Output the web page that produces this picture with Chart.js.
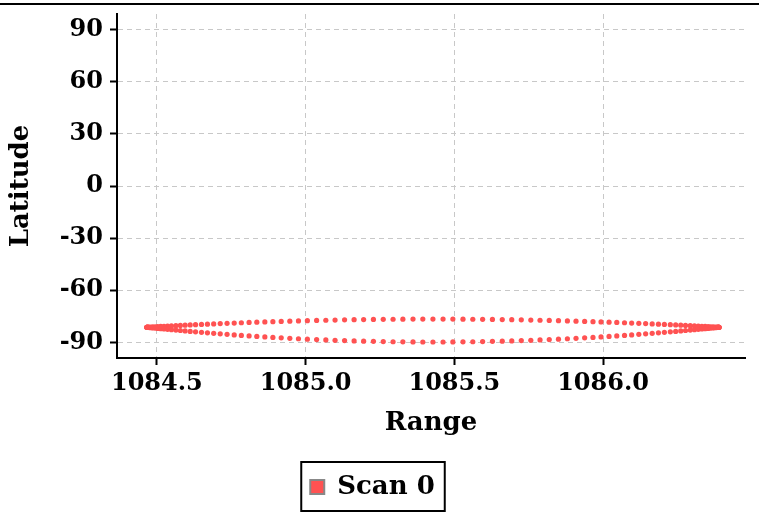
<!DOCTYPE html>
<html>
<head>
<meta charset="utf-8">
<script src="https://cdn.jsdelivr.net/npm/chart.js@4"></script>
<style>
  html, body { margin: 0; padding: 0; background: #fff; }
  #wrap { width: 759px; height: 512px; position: relative; }
</style>
</head>
<body>
<div id="wrap"><canvas id="myChart" width="759" height="512"></canvas></div>
<script>
// range values along the scan (shared by the upper and lower edge)
var ranges = [
  1086.390, 1086.389, 1086.388, 1086.385, 1086.381, 1086.375, 1086.369, 1086.361, 1086.353, 1086.343,
  1086.332, 1086.320, 1086.307, 1086.293, 1086.277, 1086.261, 1086.244, 1086.226, 1086.206, 1086.186,
  1086.165, 1086.143, 1086.120, 1086.096, 1086.072, 1086.046, 1086.020, 1085.993, 1085.966, 1085.938,
  1085.909, 1085.880, 1085.850, 1085.819, 1085.788, 1085.757, 1085.725, 1085.693, 1085.661, 1085.628,
  1085.595, 1085.562, 1085.529, 1085.495, 1085.462, 1085.428, 1085.394, 1085.361, 1085.327, 1085.294,
  1085.261, 1085.228, 1085.195, 1085.163, 1085.131, 1085.099, 1085.068, 1085.037, 1085.006, 1084.976,
  1084.947, 1084.918, 1084.890, 1084.863, 1084.836, 1084.810, 1084.784, 1084.760, 1084.736, 1084.713,
  1084.691, 1084.670, 1084.650, 1084.630, 1084.612, 1084.595, 1084.579, 1084.564, 1084.549, 1084.536,
  1084.524, 1084.513, 1084.503, 1084.495, 1084.487, 1084.481, 1084.475, 1084.471, 1084.468, 1084.467,
  1084.466
];
var latUpper = [
  -81.30, -81.29, -81.28, -81.25, -81.21, -81.16, -81.10, -81.02, -80.94, -80.85,
  -80.75, -80.64, -80.52, -80.40, -80.26, -80.13, -79.98, -79.83, -79.68, -79.52,
  -79.36, -79.20, -79.03, -78.87, -78.70, -78.54, -78.38, -78.22, -78.07, -77.92,
  -77.78, -77.64, -77.50, -77.38, -77.26, -77.15, -77.05, -76.96, -76.88, -76.80,
  -76.74, -76.69, -76.65, -76.62, -76.61, -76.60, -76.61, -76.62, -76.65, -76.69,
  -76.74, -76.80, -76.88, -76.96, -77.05, -77.15, -77.26, -77.38, -77.50, -77.64,
  -77.78, -77.92, -78.07, -78.22, -78.38, -78.54, -78.70, -78.87, -79.03, -79.20,
  -79.36, -79.52, -79.68, -79.83, -79.98, -80.13, -80.26, -80.40, -80.52, -80.64,
  -80.75, -80.85, -80.94, -81.02, -81.10, -81.16, -81.21, -81.25, -81.28, -81.29,
  -81.30
];
var latLower = [
  -81.30, -81.31, -81.34, -81.39, -81.46, -81.56, -81.67, -81.80, -81.95, -82.11,
  -82.29, -82.49, -82.71, -82.93, -83.17, -83.43, -83.69, -83.96, -84.24, -84.52,
  -84.81, -85.11, -85.40, -85.70, -85.99, -86.29, -86.58, -86.86, -87.14, -87.41,
  -87.68, -87.93, -88.17, -88.39, -88.61, -88.81, -88.99, -89.15, -89.30, -89.43,
  -89.54, -89.64, -89.71, -89.76, -89.79, -89.80, -89.79, -89.76, -89.71, -89.64,
  -89.54, -89.43, -89.30, -89.15, -88.99, -88.81, -88.61, -88.39, -88.17, -87.93,
  -87.68, -87.41, -87.14, -86.86, -86.58, -86.29, -85.99, -85.70, -85.40, -85.11,
  -84.81, -84.52, -84.24, -83.96, -83.69, -83.43, -83.17, -82.93, -82.71, -82.49,
  -82.29, -82.11, -81.95, -81.80, -81.67, -81.56, -81.46, -81.39, -81.34, -81.31,
  -81.30
];

var points = [];
for (var i = 0; i < ranges.length; i++) points.push({x: ranges[i], y: latUpper[i]});
for (var j = ranges.length - 1; j >= 0; j--) points.push({x: ranges[j], y: latLower[j]});

var serif = "'DejaVu Serif', serif";

var frame = {
  id: 'frame',
  beforeDraw: function(chart) {
    var c = chart.ctx;
    c.save();
    c.fillStyle = '#fff';
    c.fillRect(0, 0, chart.width, chart.height);
    c.fillStyle = '#000';
    c.fillRect(0, 3, chart.width, 2);
    c.restore();
  },
  afterDraw: function(chart) {
    var box = chart.legend.legendHitBoxes[0];
    if (!box) return;
    var c = chart.ctx;
    c.save();
    c.strokeStyle = '#000';
    c.lineWidth = 2;
    c.strokeRect(box.left - 9, box.top - 12, box.width + 19, box.height + 23);
    c.restore();
  }
};

var ctx = document.getElementById('myChart').getContext('2d');
var myChart = new Chart(ctx, {
  type: 'scatter',
  data: {
    datasets: [{
      label: 'Scan 0',
      data: points,
      backgroundColor: 'rgb(255, 82, 82)',
      borderColor: 'rgb(255, 82, 82)',
      pointRadius: 2.6,
      pointBorderWidth: 0
    }]
  },
  options: {
    responsive: false,
    animation: false,
    layout: { padding: { left: 0, right: 14, top: 14, bottom: 2 } },
    scales: {
      x: {
        type: 'linear',
        min: 1084.366,
        max: 1086.477,
        ticks: {
          stepSize: 0.5,
          includeBounds: false,
          color: '#000',
          padding: 4,
          maxRotation: 0,
          font: { family: serif, weight: 'bold', size: 24 },
          callback: function(v) { return v.toFixed(1); }
        },
        grid: { color: '#c8c8c8', lineWidth: 1, tickColor: '#000', tickWidth: 2, tickLength: 7 },
        border: { display: true, color: '#000', width: 2, dash: [5, 4] },
        title: { display: true, text: 'Range', color: '#000', padding: { top: 0, bottom: 21 },
                 font: { family: serif, weight: 'bold', size: 26 } },
        afterFit: function(scale) {
          scale.height = 102;
          scale.paddingLeft = 0;
          scale.paddingRight = 0;
        }
      },
      y: {
        min: -99,
        max: 99,
        ticks: {
          stepSize: 30,
          includeBounds: false,
          color: '#000',
          padding: 7,
          font: { family: serif, weight: 'bold', size: 24 }
        },
        grid: { color: '#c8c8c8', lineWidth: 1, tickColor: '#000', tickWidth: 2, tickLength: 7 },
        border: { display: true, color: '#000', width: 2, dash: [5, 4] },
        title: { display: true, text: 'Latitude', color: '#000', padding: { top: 6, bottom: 0 },
                 font: { family: serif, weight: 'bold', size: 26 } },
        afterFit: function(scale) {
          scale.width = 117;
          scale.paddingTop = 0;
          scale.paddingBottom = 0;
        }
      }
    },
    plugins: {
      legend: {
        position: 'bottom',
        labels: {
          color: '#000',
          boxWidth: 14,
          boxHeight: 14,
          padding: 14,
          font: { family: serif, weight: 'bold', size: 26 },
          generateLabels: function(chart) {
            return [{
              text: 'Scan 0',
              fillStyle: 'rgb(255, 82, 82)',
              strokeStyle: '#888',
              lineWidth: 2,
              fontColor: '#000',
              datasetIndex: 0
            }];
          }
        }
      },
      tooltip: { enabled: false }
    }
  },
  plugins: [frame]
});
</script>
</body>
</html>
